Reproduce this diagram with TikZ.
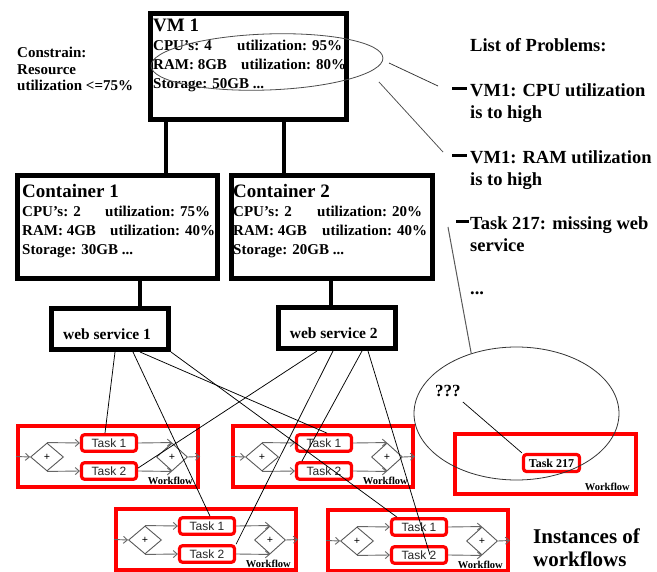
\documentclass[tikz,border=0pt]{standalone}
\usepackage{fontspec}
\setmainfont{Liberation Serif}
\newfontfamily\tasksans{Liberation Sans}
\usetikzlibrary{shapes.geometric,arrows.meta}
\newcommand\wslabel[1]{\hspace*{-6pt}\raisebox{-5pt}[\height][0pt]{#1}}
\tikzset{
  bigbox/.style={draw=black, line width=5pt, inner sep=0pt},
  conn/.style={draw=black, line width=3.4pt},
  link/.style={draw=black, line width=0.75pt},
  body/.style={inner sep=0pt, anchor=north west, align=left, font=\fontsize{15}{19}\selectfont\bfseries},
  wfbox/.style={draw=red, line width=4pt, inner sep=0pt},
  task/.style={draw=red, line width=3.2pt, rounded corners=3pt, inner sep=0pt, minimum width=55pt, minimum height=16.5pt, font=\tasksans\fontsize{12}{12}\selectfont, text=black!85},
  gate/.style={diamond, draw=black!65, line width=0.9pt, inner sep=0pt, minimum width=33pt, minimum height=28pt, font=\bfseries\fontsize{11}{11}\selectfont},
  flowarrow/.style={draw=black!60, line width=0.9pt, -{Straight Barb[length=4pt,width=7pt]}},
  wflabel/.style={inner sep=0pt, anchor=base east, font=\bfseries\fontsize{10.5}{11}\selectfont},
  listtxt/.style={inner sep=0pt, align=left, font=\fontsize{18.5}{22}\selectfont\bfseries},
  workflow/.pic={
    \node[wfbox, minimum width=180pt, minimum height=61pt] (-box) at (92,32.5) {};
    \node[gate] (-d1) at (31,33) {+};
    \node[task] (-t1) at (93,19) {Task 1};
    \node[task] (-t2) at (93,47) {Task 2};
    \node[gate, minimum width=31pt] (-d2) at (156,33) {+};
    \node[wflabel] (-lbl) at (177,60.5) {Workflow};
    \draw[flowarrow] (-box.west) -- (-d1.west);
    \draw[flowarrow] (-d1.north) -- (-t1.west);
    \draw[flowarrow] (-d1.south) -- (-t2.west);
    \draw[flowarrow] (-t1.east) -- (-d2.north);
    \draw[flowarrow] (-t2.east) -- (-d2.south);
    \draw[flowarrow] (-d2.east) -- (-box.east);
  }
}
\begin{document}
\begin{tikzpicture}[x=1pt,y=-1pt]
\fill[white] (0,0) rectangle (657,572);
\useasboundingbox (0,0) rectangle (657,572);

% VM
\node[bigbox, minimum width=196pt, minimum height=105.5pt] (vm) at (248.5,66.75) {};
\node[body] (vmtext) at (153,19.2) {{\fontsize{19}{19}\selectfont VM 1}\\
  \makebox[84pt][l]{CPU's: 4}utilization: 95\%\\
  \makebox[88pt][l]{RAM: 8GB}utilization: 80\%\\
  Storage: 50GB ...};

\node[body, font=\fontsize{15}{16.5}\selectfont\bfseries] (con) at (17,46.9) {Constrain:\\Resource\\utilization <=75\%};

% containers
\node[bigbox, minimum width=200pt, minimum height=103.5pt] (c1) at (117.5,227.25) {};
\node[body] (c1text) at (22,184.2) {{\fontsize{19}{19}\selectfont Container 1}\\
  \makebox[83pt][l]{CPU's: 2}utilization: 75\%\\
  \makebox[88pt][l]{RAM: 4GB}utilization: 40\%\\
  Storage: 30GB ...};
\node[bigbox, minimum width=201pt, minimum height=103.5pt] (c2) at (332,227.25) {};
\node[body] (c2text) at (233,184.2) {{\fontsize{19}{19}\selectfont Container 2}\\
  \makebox[84pt][l]{CPU's: 2}utilization: 20\%\\
  \makebox[89pt][l]{RAM: 4GB}utilization: 40\%\\
  Storage: 20GB ...};

\draw[conn] ([xshift=18pt]vm.south west) -- ([xshift=18pt]vm.south west |- c1.north);
\draw[conn] ([xshift=136pt]vm.south west) -- ([xshift=136pt]vm.south west |- c2.north);

% web services
\node[bigbox, minimum width=117pt, minimum height=41pt, font=\fontsize{15.5}{16}\selectfont\bfseries] (ws1) at (110,329) {\wslabel{web service 1}};
\node[bigbox, minimum width=116.5pt, minimum height=41pt, font=\fontsize{15.5}{16}\selectfont\bfseries] (ws2) at (336.75,328) {\wslabel{web service 2}};
\draw[conn] ([xshift=30pt]ws1.north) -- ([xshift=30pt]ws1.north |- c1.south);
\draw[conn] ([xshift=-5.75pt]ws2.north) -- ([xshift=-5.75pt]ws2.north |- c2.south);

% workflows
\pic (wa) at (16,424) {workflow};
\pic (wb) at (231,424) {workflow};
\pic (wc) at (114,507) {workflow};
\pic (wd) at (326,508) {workflow};

\node[wfbox, minimum width=181pt, minimum height=60pt] (we) at (545.5,464) {};
\node[task, minimum width=56pt, minimum height=17pt, font=\bfseries\fontsize{12}{12}\selectfont, text=black] (t217) at (551.5,463) {Task 217};
\node[wflabel] (welbl) at (630,490) {Workflow};

% links web service -> tasks
\draw[link] ([xshift=5pt]ws1.south) -- ([xshift=-4pt]wa-t1.north);
\draw[link] ([xshift=23pt]ws1.south) -- ([xshift=3pt]wc-t1.north);
\draw[link] ([xshift=30pt]ws1.south) -- ([xshift=3pt]wb-t1.north);
\draw[link] (ws1.south east) -- ([xshift=-22pt]wd-t1.north);
\draw[link] ([xshift=-19.75pt]ws2.south) -- ([yshift=3pt]wa-t2.east);
\draw[link] ([xshift=-3.75pt]ws2.south) -- (wc-t2.north east);
\draw[link] ([xshift=25.25pt]ws2.south) -- ([xshift=7pt]wb-t2.north west);
\draw[link] ([xshift=31.25pt]ws2.south) -- ([xshift=11pt]wd-t2.center);

% ellipses
\node[ellipse, draw=black!70, line width=0.8pt, minimum width=232pt, minimum height=56pt, inner sep=0pt, rotate=2] (vmell) at (267,62) {};
\node[ellipse, draw=black!80, line width=0.8pt, minimum width=205pt, minimum height=133pt, inner sep=0pt] (bigell) at (516.5,413.5) {};

% list of problems
\node[listtxt, anchor=base west] (lop) at (470,52) {List of Problems:};
\node[listtxt, anchor=north west] (it1) at (470,83.5) {\llap{\rule[6.2pt]{15pt}{3pt}\hspace{3pt}}VM1: CPU utilization\\is to high};
\node[listtxt, anchor=north west] (it2) at (470,150.5) {\llap{\rule[6.2pt]{15pt}{3pt}\hspace{3pt}}VM1: RAM utilization\\is to high};
\node[listtxt, anchor=north west] (it3) at (470,216.5) {\llap{\rule[6.2pt]{12.5pt}{3pt}\hspace{1.5pt}}Task 217: missing web\\service};
\node[listtxt, anchor=base west] (dots) at (470,295) {...};

\draw[link, draw=black!80] ([shift={(122,1)}]vmell.center) -- ([shift={(-32,2.5)}]it1.north west);
\draw[link, draw=black!70] ([shift={(112,20)}]vmell.center) -- ([shift={(-27,1.5)}]it2.north west);
\draw[link, draw=black!65, line width=1pt] ([shift={(-22,10.5)}]it3.north west) -- (bigell.127);

% ??? and task 217
\node[inner sep=0pt, anchor=base west, font=\bfseries\fontsize{17}{17}\selectfont] (qq) at (435,397) {???};
\draw[link, line width=0.7pt] ([shift={(2,5)}]qq.base east) -- (t217.north west);

\node[listtxt, anchor=north west, font=\fontsize{21}{23}\selectfont\bfseries] (inst) at (533,528.5) {Instances of\\workflows};
\end{tikzpicture}
\end{document}
